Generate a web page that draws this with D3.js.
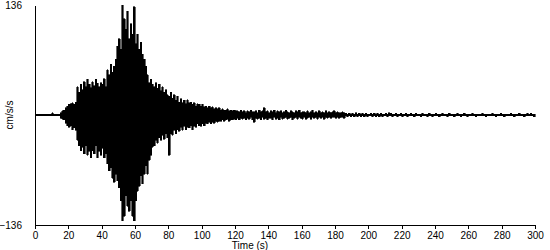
<!DOCTYPE html>
<html>
<head>
<meta charset="utf-8">
<script src="https://cdn.jsdelivr.net/npm/d3@7"></script>
<style>
  body { margin: 0; background: #fff; }
  svg text { font-family: "Liberation Sans", Arial, sans-serif; font-size: 10px; fill: #000; }
</style>
</head>
<body>
<div id="chart"></div>
<script>
// record: one sample pair per second, starting at 0 s
const startTime = 0;
const step = 1;

// positive peak per second (cm/s/s)
const peakHigh = [
  1,1,1,1,1,1,1,1,1,1, 3,1,1,1,1,
  3,5,6,9,11,13,14,15,13,16,
  35,28,38,31,41,35,44,38,34,41,
  36,44,39,35,40,38,45,35,56,50,
  63,53,60,69,85,94,81,136,119,106,
  128,94,113,100,134,88,100,81,90,75,
  69,60,50,40,44,38,35,40,33,38,
  30,35,28,31,25,23,28,21,25,18,
  23,16,20,15,18,14,19,15,16,13,
  15,11,14,13,11,13,10,11,9,11,
  9,10,8,9,8,9,6,8,6,6,
  8,5,6,5,6,5,
  5,4,6,4,5,3,5,4,6,4,
  4,5,3,6,4,5,9,4,5,3,
  5,4,6,3,5,4,5,3,4,6,
  4,3,5,4,3,5,4,6,3,4,
  4,3,5,3,4,6,3,4,3,5,
  3,4,3,5,3,4,3,4,5,3,
  4,3,3,4,3,
  2,1,2,1,2,1,3,1,2,1,
  2,1,2,1,1,2,1,2,1,2,
  1,2,1,1,2,1,3,2,1,1,
  2,1,1,2,1,1,2,1,1,2,
  1,1,2,1,1,1,2,1,1,1,
  2,1,1,1,2,1,1,1,2,1,
  1,1,2,1,1,1,1,2,1,1,
  1,2,1,1,1,1,2,1,1,1,
  1,1,2,1,1,1,1,1,2,1,
  1,1,1,2,1,1,1,1,1,2,
  1,1,1,1,2,1,1,1,1,2,
  1,2,1,1,1
];

// negative peak per second (magnitude, cm/s/s)
const peakLow = [
  1,1,1,1,1,1,1,1,1,1, 1,1,1,1,1,
  4,5,6,10,13,15,13,18,16,19,
  31,38,44,40,48,38,50,45,53,44,
  48,38,53,45,50,41,53,48,60,69,
  65,78,83,73,81,90,106,131,125,100,
  113,119,106,125,131,106,94,88,75,85,
  73,63,73,56,50,40,38,31,35,28,
  31,25,30,23,28,50,23,25,19,23,
  18,20,15,19,14,18,15,16,13,18,
  14,15,11,13,14,11,13,10,11,9,
  11,9,10,8,9,8,8,6,8,6,
  5,8,6,6,5,6,
  4,6,4,5,4,6,4,5,3,6,
  9,4,5,4,6,3,5,4,6,4,
  4,6,3,5,4,6,3,5,4,3,
  5,4,3,6,4,3,5,3,4,5,
  3,5,4,3,5,3,4,3,5,3,
  4,3,5,3,4,3,4,3,3,4,
  3,4,3,3,4,
  1,2,1,2,1,2,1,2,1,2,
  1,2,1,2,1,1,2,1,2,1,
  2,1,2,1,1,2,1,1,2,1,
  1,2,1,1,2,1,1,2,1,1,
  1,2,1,1,1,2,1,1,1,2,
  1,1,2,1,1,1,2,1,1,1,
  1,2,1,1,1,2,1,1,1,2,
  1,1,1,2,1,1,1,1,2,1,
  1,1,1,1,2,1,1,1,1,1,
  2,1,1,1,1,2,1,1,1,1,
  1,2,1,1,1,1,1,2,1,1,
  1,1,1,2,1
];

const xTicks = [0,20,40,60,80,100,120,140,160,180,200,220,240,260,280,300];
const yLimit = 136;

const width = 550, height = 250;
const margin = {top:5, right:15, bottom:25, left:35};

const x = d3.scaleLinear().domain([0, 300]).range([margin.left, width - margin.right]);
const y = d3.scaleLinear().domain([-yLimit, yLimit]).range([height - margin.bottom, margin.top]);

const svg = d3.select("#chart")
  .append("svg")
  .attr("width", width)
  .attr("height", height);

// trace drawn as a column per second, from -peak up to +peak
const samples = peakHigh.map((v, i) => ({t: startTime + i * step, hi: v, lo: -peakLow[i]}));

svg.append("path")
  .datum(samples)
  .attr("d", d3.area()
    .curve(d3.curveStepAfter)
    .x(d => x(d.t))
    .y0(d => y(d.lo))
    .y1(d => y(d.hi)))
  .attr("fill", "#000")
  .attr("stroke", "#000")
  .attr("stroke-width", 0.6)
  .attr("shape-rendering", "crispEdges");

// x axis
const xAxis = svg.append("g")
  .attr("transform", `translate(0,${y(-yLimit)})`)
  .call(d3.axisBottom(x).tickValues(xTicks).tickSize(4).tickSizeOuter(0).tickFormat(d3.format("d")));
xAxis.select(".domain").attr("stroke", "#000").attr("shape-rendering", "crispEdges");
xAxis.selectAll(".tick line").attr("stroke", "#000").attr("shape-rendering", "crispEdges");
xAxis.selectAll("text").style("font-size", "10px").attr("fill", "#000");

// y axis: only the limits are labelled
const yAxis = svg.append("g")
  .attr("transform", `translate(${x(0)},0)`)
  .call(d3.axisLeft(y).tickValues([-yLimit, yLimit]).tickSize(0).tickSizeOuter(0).tickPadding(13));
yAxis.select(".domain").attr("stroke", "#000").attr("shape-rendering", "crispEdges");
yAxis.selectAll("text").style("font-size", "10px").attr("fill", "#000");

svg.append("text")
  .attr("x", 250)
  .attr("y", 249)
  .attr("text-anchor", "middle")
  .text("Time (s)");

svg.append("text")
  .attr("transform", `translate(13,${y(0)}) rotate(-90)`)
  .attr("text-anchor", "middle")
  .text("cm/s/s");
</script>
</body>
</html>
